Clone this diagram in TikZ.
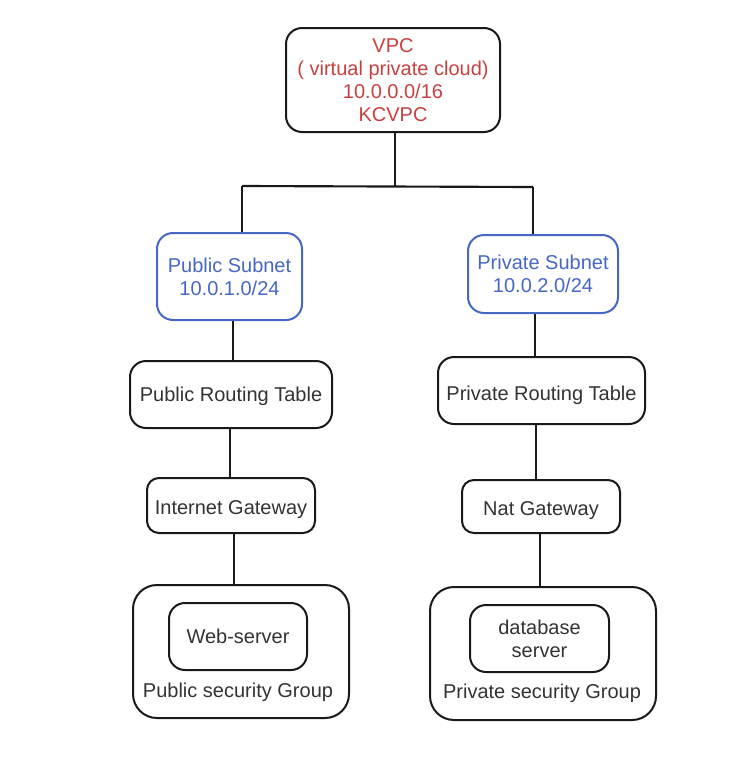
\documentclass[tikz,border=0pt]{standalone}
\usepackage{fontspec}
\setmainfont{Liberation Sans}
\definecolor{vpcred}{RGB}{201,64,64}
\definecolor{subblue}{RGB}{70,104,196}
\definecolor{txt}{RGB}{51,51,51}
\definecolor{ln}{RGB}{25,25,25}
\newcommand\lowtext[2]{\raisebox{-#1}[11pt][3.2pt]{#2}}
\begin{document}
\begin{tikzpicture}[x=0.75pt,y=-0.75pt,
  box/.style={draw=ln, line width=1.5pt, rounded corners=12pt, align=center, text=txt,
    font=\fontsize{15}{17.25}\selectfont, inner sep=0pt},
  sub/.style={box, draw=subblue, text=subblue},
  conn/.style={draw=ln, line width=1.6pt},
  lbl/.style={text=txt, font=\fontsize{15}{17.25}\selectfont, inner sep=0pt}]
\useasboundingbox (0,0) rectangle (742,775);
\fill[white] (0,0) rectangle (742,775);

\node[box, text=vpcred, minimum width=160.5pt, minimum height=78pt] (vpc) at (393,80)
  {VPC\\( virtual private cloud)\\10.0.0.0/16\\KCVPC};

\node[sub, minimum width=108.75pt, minimum height=65.25pt] (pubsub) at (229.5,276.5) {Public Subnet\\10.0.1.0/24};
\node[sub, minimum width=112.5pt, minimum height=58.5pt] (privsub) at (543,274) {Private Subnet\\10.0.2.0/24};

\node[box, minimum width=151.5pt, minimum height=50.25pt] (pubrt) at (231,394.5) {\lowtext{1pt}{Public Routing Table}};
\node[box, minimum width=155.25pt, minimum height=50.25pt] (privrt) at (541.5,390.5) {\lowtext{3.5pt}{Private Routing Table}};

\node[box, minimum width=126pt, minimum height=41.25pt, rounded corners=9pt] (igw) at (231,505.5) {\lowtext{3pt}{Internet Gateway}};
\node[box, minimum width=118.5pt, minimum height=39.75pt, rounded corners=9pt] (nat) at (541,506.5) {\lowtext{2.5pt}{Nat Gateway}};

\node[box, minimum width=162pt, minimum height=99.75pt, rounded corners=18pt] (pubsg) at (241,651.5) {};
\node[box, minimum width=103.5pt, minimum height=50.25pt] (web) at (238,636.5) {Web-server};
\node[lbl] (pubsgl) at (238,692) {Public security Group};

\node[box, minimum width=169.5pt, minimum height=99.75pt, rounded corners=18pt] (privsg) at (543,653.5) {};
\node[box, minimum width=104.25pt, minimum height=50.25pt] (db) at (539.5,638.5) {database\\server};
\node[lbl] (privsgl) at (542,693) {Private security Group};

% connectors
\coordinate (j) at (395,187);
\coordinate (jl) at (242,186);
\coordinate (jr) at (533,187);
\draw[conn] (vpc.south -| j) -- (j);
\draw[conn] (jl) -- (jr);
\draw[conn] (jl) -- (pubsub.north -| jl);
\draw[conn] (jr) -- (privsub.north -| jr);

\draw[conn] (pubsub.south -| 233,0) -- (pubrt.north -| 233,0);
\draw[conn] (pubrt.south -| 230,0) -- (igw.north -| 230,0);
\draw[conn] (igw.south -| 234,0) -- (pubsg.north -| 234,0);

\draw[conn] (privsub.south -| 535,0) -- (privrt.north -| 535,0);
\draw[conn] (privrt.south -| 536,0) -- (nat.north -| 536,0);
\draw[conn] (nat.south -| 540,0) -- (privsg.north -| 540,0);
\end{tikzpicture}
\end{document}
